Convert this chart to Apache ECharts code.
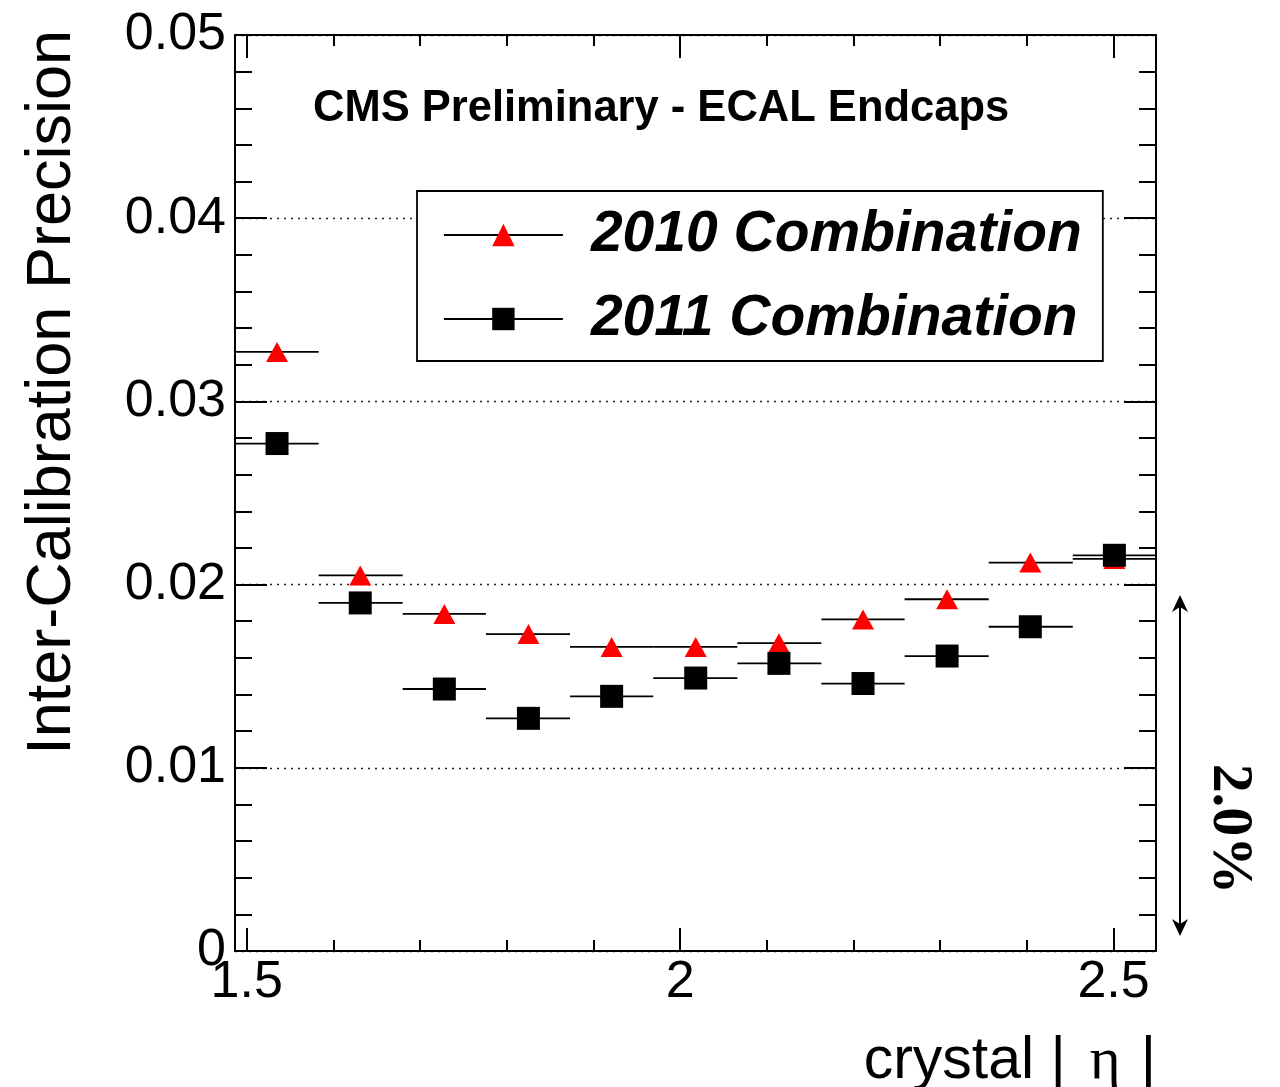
<!DOCTYPE html>
<html>
<head>
<meta charset="utf-8">
<title>ECAL Endcaps inter-calibration precision</title>
<script src="https://cdn.jsdelivr.net/npm/echarts@6/dist/echarts.min.js"></script>
<style>
  html, body { margin: 0; padding: 0; background: #fff; }
  #chart { width: 1280px; height: 1087px; }
</style>
</head>
<body>
<div id="chart"></div>
<script>
// |eta| bins of the endcap crystals (lower edge, upper edge, centre)
const etaLow    = [1.4865, 1.583, 1.680, 1.776, 1.873, 1.969, 2.066, 2.163, 2.259, 2.356, 2.453];
const etaHigh   = [1.583, 1.680, 1.776, 1.873, 1.969, 2.066, 2.163, 2.259, 2.356, 2.453, 2.549];
const etaCenter = [1.535, 1.631, 1.728, 1.825, 1.921, 2.018, 2.114, 2.211, 2.308, 2.404, 2.501];

// inter-calibration precision per bin
const prec2010 = [0.0327, 0.0205, 0.0184, 0.0173, 0.0166, 0.0166, 0.0168, 0.0181, 0.0192, 0.0212, 0.0214];
const prec2011 = [0.0277, 0.0190, 0.0143, 0.0127, 0.0139, 0.0149, 0.0157, 0.0146, 0.0161, 0.0177, 0.0216];

const seriesNames = ['2010 Combination', '2011 Combination'];

// axis ticks
const xMajorTicks = [1.5, 2.0, 2.5];
const xMinorTicks = [1.6, 1.7, 1.8, 1.9, 2.1, 2.2, 2.3, 2.4];
const xRange = [1.4865, 2.549];
const yRange = [0, 0.05];
const yStep = 0.01;

const SANS = "'Liberation Sans', Arial, Helvetica, sans-serif";
const SERIF = "'Liberation Serif', 'Times New Roman', serif";
const black = '#000';

const chart = echarts.init(document.getElementById('chart'), null, { renderer: 'canvas' });

function xAxisDef(position, ticks, len, withLabels, withLine) {
  return {
    type: 'value',
    position: position,
    min: xRange[0],
    max: xRange[1],
    axisLine: { show: withLine, onZero: false, lineStyle: { color: black, width: 2 } },
    axisTick: { show: true, inside: true, length: len, customValues: ticks,
                lineStyle: { color: black, width: 2 } },
    axisLabel: withLabels ? {
      show: true, customValues: ticks, color: black, fontFamily: SANS, fontSize: 52, margin: 6,
      formatter: v => String(v)
    } : { show: false },
    splitLine: { show: false }
  };
}

function yAxisDef(position, withLabels) {
  return {
    type: 'value',
    position: position,
    min: yRange[0],
    max: yRange[1],
    interval: yStep,
    axisLine: { show: true, onZero: false, lineStyle: { color: black, width: 2 } },
    axisTick: { show: true, inside: true, length: 32, lineStyle: { color: black, width: 2 } },
    minorTick: { show: true, splitNumber: 5, length: 17, lineStyle: { color: black, width: 2 } },
    axisLabel: withLabels ? {
      show: true, color: black, fontFamily: SANS, fontSize: 52, margin: 9,
      formatter: v => (v === 0 ? '0' : v.toFixed(2))
    } : { show: false },
    splitLine: withLabels ? { show: true, lineStyle: { color: '#222', width: 1.3, type: [2, 5] } } : { show: false },
    minorSplitLine: { show: false }
  };
}

// horizontal bars spanning each |eta| bin
function binBar(values) {
  return {
    type: 'custom',
    xAxisIndex: 0,
    yAxisIndex: 0,
    silent: true,
    z: 2,
    data: etaLow.map((lo, i) => [lo, etaHigh[i], values[i]]),
    encode: { x: [0, 1], y: 2 },
    renderItem: (params, api) => {
      const a = api.coord([api.value(0), api.value(2)]);
      const b = api.coord([api.value(1), api.value(2)]);
      return {
        type: 'line',
        shape: { x1: a[0], y1: a[1], x2: b[0], y2: b[1] },
        style: { stroke: black, lineWidth: 1.8 }
      };
    }
  };
}

const option = {
  animation: false,
  backgroundColor: '#fff',
  grid: { left: 235, right: 124, top: 35, bottom: 136, containLabel: false },
  xAxis: [
    xAxisDef('bottom', xMajorTicks, 23, true, true),
    xAxisDef('bottom', xMinorTicks, 11, false, false),
    xAxisDef('top', xMajorTicks, 23, false, true),
    xAxisDef('top', xMinorTicks, 11, false, false)
  ],
  yAxis: [yAxisDef('left', true), yAxisDef('right', false)],
  legend: {
    data: seriesNames,
    orient: 'vertical',
    left: 417,
    top: 191,
    padding: [14, 21, 12, 26],
    itemWidth: 119,
    itemHeight: 28,
    itemGap: 24,
    backgroundColor: '#fff',
    borderColor: black,
    borderWidth: 1.8,
    borderRadius: 0,
    selectedMode: false,
    lineStyle: { color: black, width: 1.8, opacity: 1, type: 'solid' },
    itemStyle: { borderWidth: 0 },
    textStyle: {
      color: black, fontFamily: SANS, fontSize: 57, fontWeight: 'bold', fontStyle: 'italic',
      lineHeight: 60, padding: [0, 0, 0, 23]
    },
    z: 10
  },
  series: [
    binBar(prec2010),
    binBar(prec2011),
    {
      type: 'line',
      name: seriesNames[0],
      xAxisIndex: 0,
      yAxisIndex: 0,
      data: etaCenter.map((x, i) => [x, prec2010[i]]),
      symbol: 'triangle',
      symbolSize: [22, 20],
      showSymbol: true,
      itemStyle: { color: '#ff0000', borderWidth: 0 },
      lineStyle: { width: 0, opacity: 0 },
      emphasis: { disabled: true },
      z: 3
    },
    {
      type: 'line',
      name: seriesNames[1],
      xAxisIndex: 0,
      yAxisIndex: 0,
      data: etaCenter.map((x, i) => [x, prec2011[i]]),
      symbol: 'rect',
      symbolSize: 23,
      showSymbol: true,
      itemStyle: { color: black, borderWidth: 0 },
      lineStyle: { width: 0, opacity: 0 },
      emphasis: { disabled: true },
      z: 4
    }
  ],
  graphic: [
    {
      type: 'text', x: 313, y: 109, z: 20,
      style: { text: 'CMS Preliminary - ECAL Endcaps', fill: black,
               font: "bold 43.5px " + SANS, textAlign: 'left', textVerticalAlign: 'middle' }
    },
    {
      type: 'text', x: 53, y: 30, rotation: Math.PI / 2, z: 20,
      style: { text: 'Inter-Calibration Precision', fill: black,
               font: "63px " + SANS, textAlign: 'right', textVerticalAlign: 'middle' }
    },
    {
      type: 'text', x: 1156, y: 1062, z: 20,
      style: {
        text: '{a|crystal }{b||}{e|η}{b||}',
        textAlign: 'right', textVerticalAlign: 'middle',
        rich: {
          a: { fontFamily: SANS, fontSize: 59, fill: black, color: black },
          b: { fontFamily: SANS, fontSize: 59, fill: black, color: black },
          e: { fontFamily: SERIF, fontSize: 59, fill: black, color: black, padding: [0, 20, 0, 24] }
        }
      }
    },
    // double-headed arrow marking the 2% span
    {
      type: 'group', z: 20,
      children: [
        { type: 'line', shape: { x1: 1180, y1: 600, x2: 1180, y2: 931 },
          style: { stroke: black, lineWidth: 2 } },
        { type: 'polygon', shape: { points: [[1180, 595], [1172, 612], [1180, 607], [1188, 612]] },
          style: { fill: black } },
        { type: 'polygon', shape: { points: [[1180, 936], [1172, 919], [1180, 924], [1188, 919]] },
          style: { fill: black } }
      ]
    },
    {
      type: 'text', x: 1229, y: 829, rotation: -Math.PI / 2, z: 20,
      style: { text: '2.0%', fill: black, font: "bold 58px " + SERIF,
               textAlign: 'center', textVerticalAlign: 'middle' }
    }
  ]
};

chart.setOption(option);
</script>
</body>
</html>
